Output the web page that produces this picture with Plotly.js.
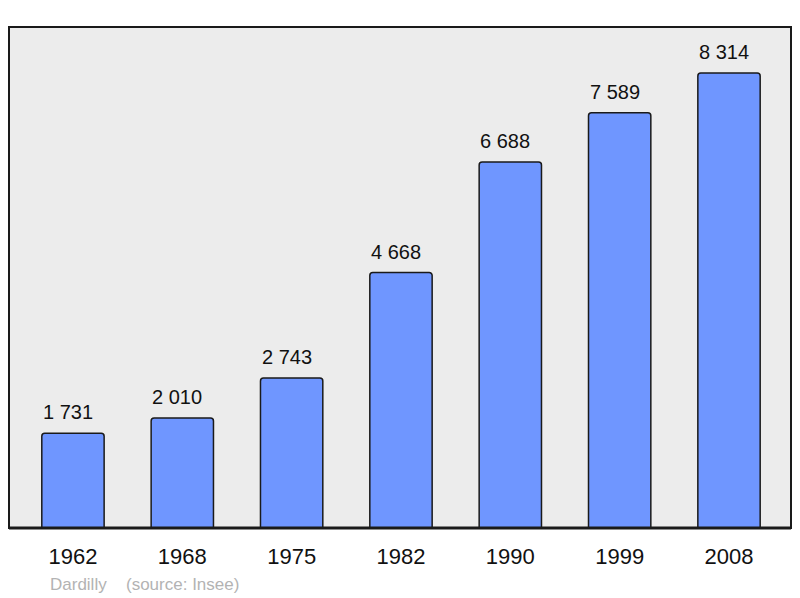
<!DOCTYPE html>
<html>
<head>
<meta charset="utf-8">
<script src="https://cdn.plot.ly/plotly-3.0.1.min.js"></script>
<style>html,body{margin:0;padding:0;background:#fff;}#chart{width:800px;height:598px;}</style>
</head>
<body>
<div id="chart"></div>
<script>
var years = ["1962", "1968", "1975", "1982", "1990", "1999", "2008"];
var population = [1731, 2010, 2743, 4668, 6688, 7589, 8314];
var placeName = "Dardilly";
var sourceText = "(source: Insee)";

function fmt(v) {
  return String(v).replace(/\B(?=(\d{3})+(?!\d))/g, " ");
}

var FONT = "'Liberation Sans', Arial, sans-serif";

var trace = {
  type: "bar",
  x: years,
  y: population,
  width: 0.57,
  marker: {color: "#6f96ff", line: {color: "#1a1a1a", width: 1.5}},
  hoverinfo: "none"
};

var annotations = years.map(function (yr, i) {
  return {
    x: i, y: population[i], xref: "x", yref: "y",
    text: fmt(population[i]), showarrow: false,
    yanchor: "bottom", yshift: 8, xshift: -5,
    font: {family: FONT, size: 20, color: "#111"}
  };
});
annotations.push({
  xref: "paper", yref: "paper", x: 0.0505, y: -0.112, xanchor: "left", yanchor: "middle",
  text: placeName, showarrow: false,
  font: {family: FONT, size: 17, color: "#b3b3b3"}
});
annotations.push({
  xref: "paper", yref: "paper", x: 0.1475, y: -0.112, xanchor: "left", yanchor: "middle",
  text: sourceText, showarrow: false,
  font: {family: FONT, size: 17, color: "#b3b3b3"}
});

var layout = {
  width: 800, height: 598,
  margin: {l: 9, r: 9, t: 27, b: 70, pad: 0},
  paper_bgcolor: "#ffffff",
  plot_bgcolor: "#ececec",
  barcornerradius: 3,
  showlegend: false,
  xaxis: {
    type: "category",
    range: [-0.585, 6.567],
    showgrid: false, zeroline: false,
    showline: false,
    ticks: "", ticklabelstandoff: 13,
    tickfont: {family: FONT, size: 22, color: "#111"},
    fixedrange: true
  },
  yaxis: {
    range: [0, 9154],
    showgrid: false, zeroline: false, showticklabels: false, showline: false,
    fixedrange: true
  },
  shapes: [
    {type: "rect", xref: "paper", yref: "paper", x0: 0, x1: 1, y0: 0, y1: 1,
     line: {color: "#1a1a1a", width: 2}, layer: "above"},
    {type: "line", xref: "paper", yref: "paper", x0: 0, x1: 1, y0: 0, y1: 0,
     line: {color: "#1a1a1a", width: 3}, layer: "above"}
  ],
  annotations: annotations
};

Plotly.newPlot("chart", [trace], layout, {staticPlot: true, displayModeBar: false});
</script>
</body>
</html>
